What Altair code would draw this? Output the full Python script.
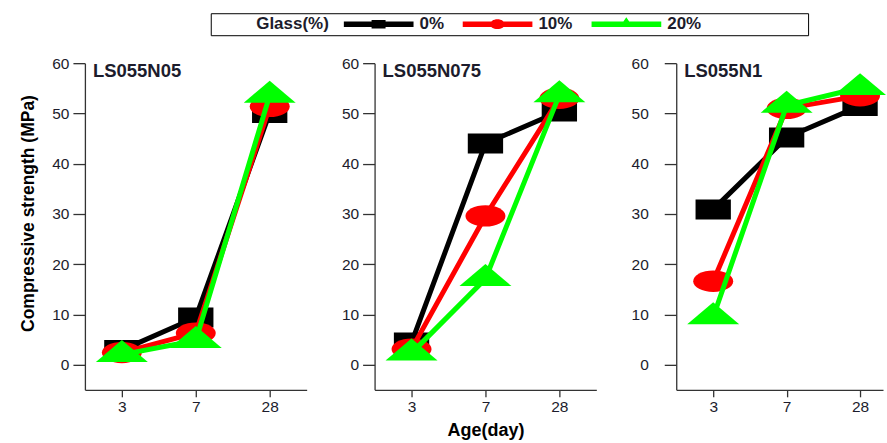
import altair as alt
import pandas as pd

# ---- data -------------------------------------------------------------
ages = ["3", "7", "28"]
glass_levels = ["0%", "10%", "20%"]
panels = ["LS055N05", "LS055N075", "LS055N1"]

# compressive strength (MPa) at 3, 7 and 28 days
ls055n05_g0 = [2.9, 9.4, 50.1]
ls055n05_g10 = [2.4, 6.3, 51.4]
ls055n05_g20 = [2.0, 4.8, 53.6]

ls055n075_g0 = [4.4, 44.0, 50.4]
ls055n075_g10 = [3.1, 29.6, 53.0]
ls055n075_g20 = [2.3, 17.1, 53.7]

ls055n1_g0 = [30.9, 45.2, 51.5]
ls055n1_g10 = [16.6, 51.0, 53.5]
ls055n1_g20 = [9.5, 51.6, 55.1]

series = {
    "LS055N05": [ls055n05_g0, ls055n05_g10, ls055n05_g20],
    "LS055N075": [ls055n075_g0, ls055n075_g10, ls055n075_g20],
    "LS055N1": [ls055n1_g0, ls055n1_g10, ls055n1_g20],
}

rows = []
for p in panels:
    for g, vals in zip(glass_levels, series[p]):
        for a, v in zip(ages, vals):
            rows.append({"panel": p, "glass": g, "age": a, "strength": v})
df = pd.DataFrame(rows)
labels_df = pd.DataFrame({"panel": panels})

# ---- styling ----------------------------------------------------------
FONT = "Liberation Sans"
TEXT = "#1c1c2c"
colors = {"0%": "#000000", "10%": "#ff0000", "20%": "#00ff00"}

# wide filled markers (square, ellipse, triangle), unit box scaled by size
marker_paths = {
    "0%": "M -0.68 -0.385 L 0.68 -0.385 L 0.68 0.385 L -0.68 0.385 Z",
    "10%": "M -0.77 0 A 0.77 0.41 0 1 1 0.77 0 A 0.77 0.41 0 1 1 -0.77 0 Z",
    "20%": "M 0 -0.564 L 1 0.282 L -1 0.282 Z",
}
MARKER_SIZE = 2704

# legend keys: thick line with a small marker in the middle
BAR = "M -1 -0.08 L 1 -0.08 L 1 0.08 L -1 0.08 Z "
legend_paths = [
    BAR + "M -0.2 -0.12 L 0.2 -0.12 L 0.2 0.12 L -0.2 0.12 Z",
    BAR + "M -0.21 0 A 0.21 0.14 0 1 1 0.21 0 A 0.21 0.14 0 1 1 -0.21 0 Z",
    BAR + "M 0 -0.2 L 0.19 0.08 L -0.19 0.08 Z",
]

# non-breaking spaces widen the legend frame; zero-width spaces keep them from being trimmed
NBSP = "\u00a0"
ZWSP = "\u200b"


def panel_chart(idx, name, width, xpad, xalign, label_pad):
    x = alt.X(
        "age:N",
        sort=ages,
        scale=alt.Scale(type="point", padding=xpad, align=xalign),
        axis=alt.Axis(
            title="Age(day)" if idx == 1 else None,
            labelAngle=0,
            tickSize=7,
            labelPadding=3,
            titleFontSize=18,
            titlePadding=6,
        ),
    )
    y_axis = dict(
        values=[0, 10, 20, 30, 40, 50, 60],
        title="Compressive strength (MPa)" if idx == 0 else None,
        tickSize=12,
        labelPadding=label_pad,
        titleFontSize=17.5,
        titlePadding=14,
    )
    if idx == 0:
        y_axis["titleY"] = 150
    y = alt.Y(
        "strength:Q",
        scale=alt.Scale(domain=[-5, 60], nice=False, zero=False),
        axis=alt.Axis(**y_axis),
    )
    base = alt.Chart(df).transform_filter(alt.datum.panel == name)
    layers = []
    for g in glass_levels:
        s = base.transform_filter(alt.datum.glass == g)
        layers.append(s.mark_line(color=colors[g], strokeWidth=5).encode(x=x, y=y))
        layers.append(
            s.mark_point(
                shape=marker_paths[g],
                filled=True,
                size=MARKER_SIZE,
                color=colors[g],
                opacity=1,
            ).encode(x=x, y=y)
        )
    label = (
        alt.Chart(labels_df)
        .transform_filter(alt.datum.panel == name)
        .mark_text(
            align="left",
            baseline="alphabetic",
            font=FONT,
            fontSize=18.5,
            fontWeight="bold",
            color=TEXT,
        )
        .encode(x=alt.value(8), y=alt.value(14), text="panel:N")
    )
    layers.append(label)

    if idx == 0:
        legend = alt.Legend(
            orient="none",
            legendX=126,
            legendY=-50,
            direction="horizontal",
            title=ZWSP + NBSP * 9 + "Glass(%)",
            titleOrient="left",
            titleFont=FONT,
            titleFontSize=17,
            titleFontWeight="bold",
            titleColor=TEXT,
            titlePadding=14,
            labelFont=FONT,
            labelFontSize=17,
            labelFontWeight="bold",
            labelColor=TEXT,
            labelOffset=6,
            labelLimit=400,
            labelExpr="datum.label == '20%' ? datum.label + '" + NBSP * 22 + ZWSP + "' : datum.label",
            columnPadding=18,
            symbolSize=4900,
            symbolStrokeWidth=0,
            symbolOpacity=1,
            clipHeight=16,
            padding=3,
            strokeColor="#000000",
            fillColor="#ffffff",
        )
        key = (
            alt.Chart(df)
            .transform_filter("false")
            .mark_point(filled=True, opacity=1)
            .encode(
                color=alt.Color(
                    "glass:N",
                    scale=alt.Scale(domain=glass_levels, range=[colors[g] for g in glass_levels]),
                    legend=legend,
                ),
                shape=alt.Shape(
                    "glass:N",
                    scale=alt.Scale(domain=glass_levels, range=legend_paths),
                    legend=legend,
                ),
            )
        )
        layers.append(key)

    return alt.layer(*layers).properties(width=width, height=327)


chart = (
    alt.hconcat(
        panel_chart(0, panels[0], 222, 0.5, 0.5, 4),
        panel_chart(1, panels[1], 222, 0.5, 0.5, 4),
        panel_chart(2, panels[2], 207, 0.408, 0.617, 16),
        spacing=34,
    )
    .properties(padding={"left": 19, "top": 12, "right": 0, "bottom": 0})
    .configure_view(stroke=None)
    .configure_axis(
        grid=False,
        labelFont=FONT,
        labelFontSize=15.5,
        labelColor=TEXT,
        titleFont=FONT,
        titleFontWeight="bold",
        titleColor="#000000",
        domainColor="#333333",
        tickColor="#333333",
        domainWidth=1.3,
        tickWidth=1.3,
    )
)

chart.save("out.html", embed_options={"renderer": "svg", "actions": False})
